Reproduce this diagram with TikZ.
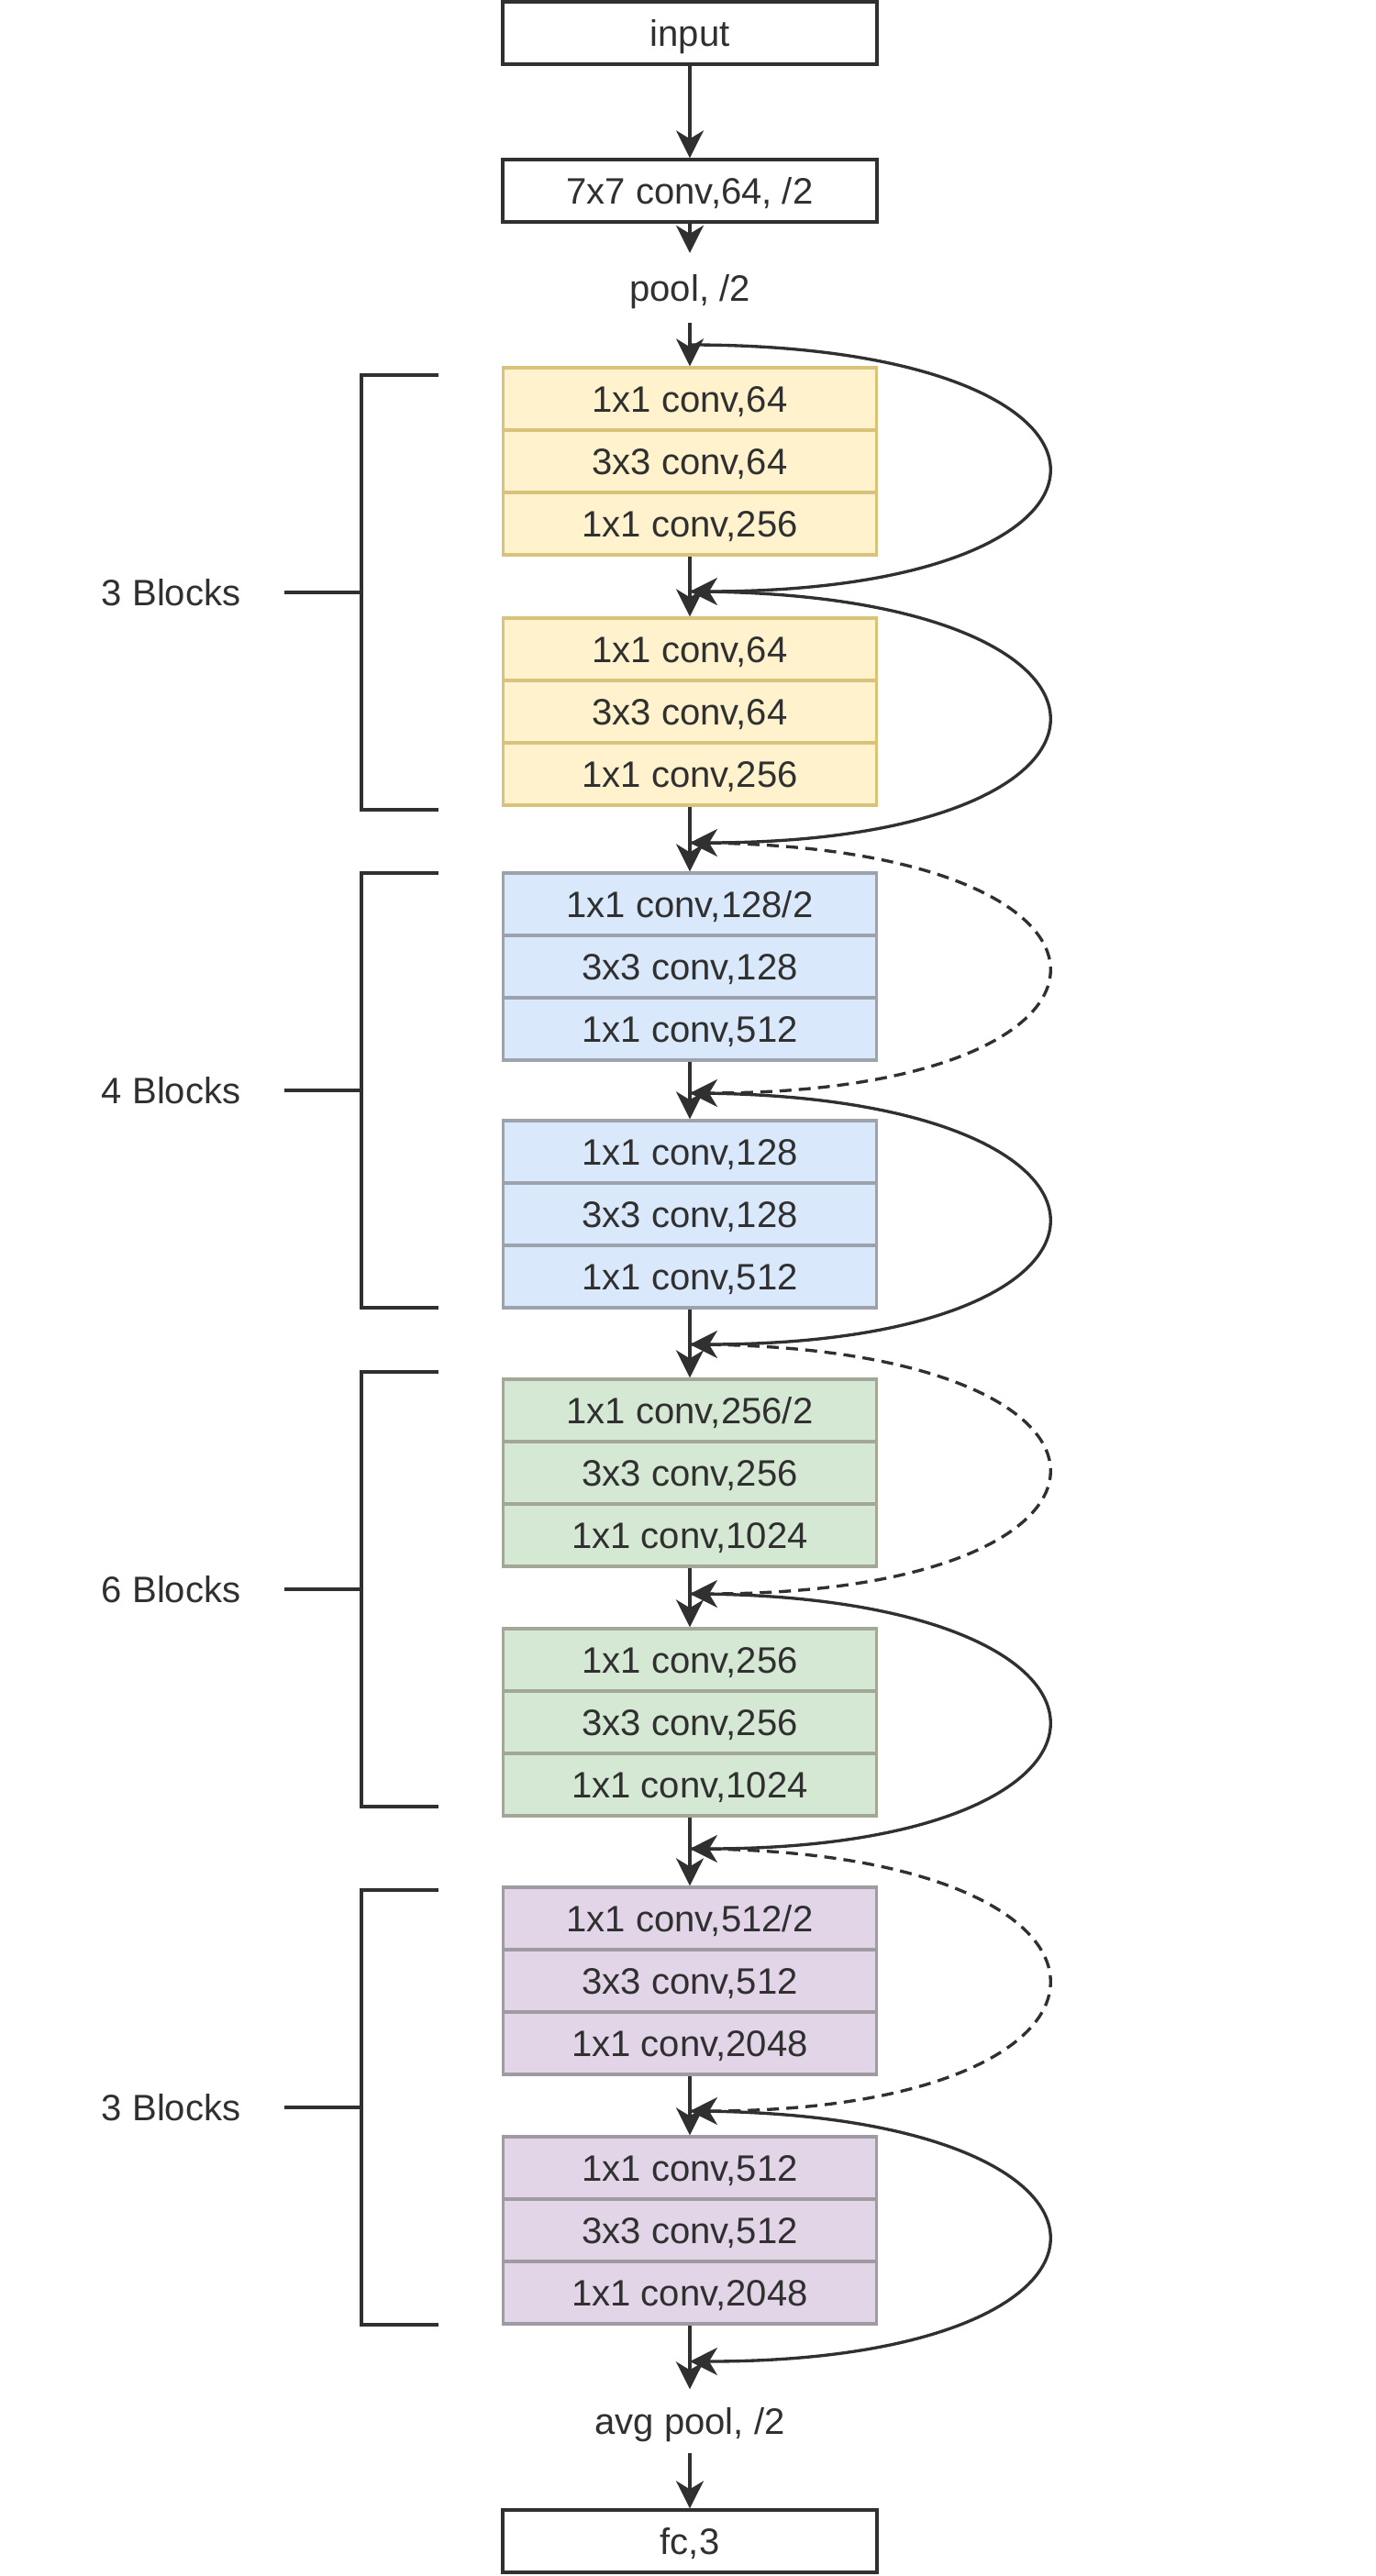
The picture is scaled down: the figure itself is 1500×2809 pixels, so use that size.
\documentclass[tikz,border=0pt]{standalone}
\usepackage{fontspec}
\setmainfont{Liberation Sans}
\usetikzlibrary{arrows.meta}
\definecolor{ink}{HTML}{303030}
\definecolor{yelfill}{HTML}{FFF2CC}
\definecolor{yelline}{HTML}{D9C27A}
\definecolor{blufill}{HTML}{DAE8FC}
\definecolor{bluline}{HTML}{9DA3AD}
\definecolor{grnfill}{HTML}{D5E8D4}
\definecolor{grnline}{HTML}{A2A796}
\definecolor{purfill}{HTML}{E1D5E7}
\definecolor{purline}{HTML}{9F9BA3}

\begin{document}
\begin{tikzpicture}[x=0.1mm,y=-0.1mm,line width=0.95pt,color=ink,
  every node/.style={font=\fontsize{11.4}{13}\selectfont,text=ink},
  box/.style={draw=ink,minimum width=40.8mm,minimum height=6.8mm,inner sep=0pt,text height=8.2pt,text depth=0pt},
  row/.style={box,minimum width=40.7mm},
  lbl/.style={inner sep=0pt,text height=8.2pt,text depth=0pt},
  yel/.style={fill=yelfill,draw=yelline},
  blu/.style={fill=blufill,draw=bluline},
  grn/.style={fill=grnfill,draw=grnline},
  pur/.style={fill=purfill,draw=purline},
  arr/.style={-{Stealth[length=3mm,width=3mm,inset=0.9mm]}},
  shortcut/.style={arr},
  projection/.style={arr,dash pattern=on 1.3mm off 0.8mm}]

\useasboundingbox (0,0) rectangle (1500,2809);

% stem
\node[box] (input) at (752,36) {input};
\node[box] (conv) at (752,208) {7x7 conv,64, /2};
\node[lbl,minimum height=7.3mm] (pool) at (752,314) {pool, /2};

% bottleneck blocks
\foreach \nm/\yy/\st/\la/\lb/\lc in {
  y1/401/yel/{1x1 conv,64}/{3x3 conv,64}/{1x1 conv,256},
  y2/674/yel/{1x1 conv,64}/{3x3 conv,64}/{1x1 conv,256},
  b1/952/blu/{1x1 conv,128/2}/{3x3 conv,128}/{1x1 conv,512},
  b2/1222/blu/{1x1 conv,128}/{3x3 conv,128}/{1x1 conv,512},
  g1/1504/grn/{1x1 conv,256/2}/{3x3 conv,256}/{1x1 conv,1024},
  g2/1776/grn/{1x1 conv,256}/{3x3 conv,256}/{1x1 conv,1024},
  p1/2058/pur/{1x1 conv,512/2}/{3x3 conv,512}/{1x1 conv,2048},
  p2/2330/pur/{1x1 conv,512}/{3x3 conv,512}/{1x1 conv,2048}}
{
  \node[row,\st] (\nm-a) at (752,\yy+34) {\la};
  \node[row,\st] (\nm-b) at (752,\yy+102) {\lb};
  \node[row,\st] (\nm-c) at (752,\yy+170) {\lc};
}

% head
\node[lbl,minimum height=6.6mm] (avg) at (752,2640) {avg pool, /2};
\node[box] (fc) at (752,2771) {fc,3};

% main path
\draw[arr] (input) -- (conv);
\draw[arr] (conv) -- (pool);
\draw[arr] (pool) -- (y1-a);
\foreach \u/\v in {y1/y2,y2/b1,b1/b2,b2/g1,g1/g2,g2/p1,p1/p2}
  \draw[arr] (\u-c) -- (\v-a);
\draw[arr] (p2-c) -- (avg);
\draw[arr] (avg) -- (fc);

% shortcuts
\foreach \i/\yy in {0/376,1/645,2/919,3/1192,4/1466,5/1738,6/2016,7/2302,8/2575}
  \coordinate (j\i) at (752,\yy);
\foreach \i/\k/\st in {0/1/shortcut,1/2/shortcut,2/3/projection,3/4/shortcut,4/5/projection,5/6/shortcut,6/7/projection,7/8/shortcut}
  \draw[\st] (j\i) .. controls +(521,0) and +(521,0) .. (j\k);

% stage brackets
\foreach \yy/\lab in {409/3 Blocks,952/4 Blocks,1496/6 Blocks,2061/3 Blocks}{
  \draw (478,\yy) -- (394,\yy) -- (394,\yy+474) -- (478,\yy+474);
  \draw (394,\yy+237) -- (310,\yy+237);
  \node[lbl,anchor=east] (lab\yy) at (264,\yy+237) {\lab};
}

\end{tikzpicture}
\end{document}
